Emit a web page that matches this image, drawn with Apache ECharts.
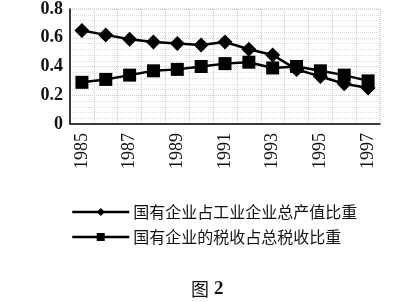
<!DOCTYPE html>
<html><head><meta charset="utf-8">
<script src="https://cdn.jsdelivr.net/npm/echarts@6/dist/echarts.min.js"></script>
<style>html,body{margin:0;padding:0;background:#fff}#c{width:405px;height:302px}</style>
</head><body><div id="c"></div>
<script>
var years = ['1985','1986','1987','1988','1989','1990','1991','1992','1993','1994','1995','1996','1997'];
var outputShare = [0.65,0.62,0.59,0.57,0.56,0.55,0.57,0.52,0.48,0.38,0.33,0.28,0.25];
var taxShare = [0.29,0.31,0.34,0.37,0.38,0.40,0.42,0.43,0.39,0.40,0.37,0.34,0.30];
var yTicks = [0,0.2,0.4,0.6,0.8];
var seriesNames = ['国有企业占工业企业总产值比重','国有企业的税收占总税收比重'];
var captionWord = '图';
var captionNum = '2';

var chart = echarts.init(document.getElementById('c'), null, {renderer:'canvas'});
chart.setOption({
  animation:false,
  backgroundColor:'#fff',
  grid:{left:70,right:25,top:8,bottom:178,show:true,borderColor:'#bbb',borderWidth:1,borderType:'dotted',backgroundColor:'#fff'},
  title:{text:'{a|'+captionWord+'} {b|'+captionNum+'}',left:186,top:275,
    textStyle:{fontWeight:'normal',rich:{
      a:{fontFamily:'"Noto Sans CJK SC"',fontSize:18,fontWeight:'normal',color:'#111'},
      b:{fontFamily:'"Liberation Serif"',fontSize:19,fontWeight:'bold',color:'#111'}}}},
  legend:{
    orient:'vertical',left:66,top:199,itemGap:9,itemWidth:57,itemHeight:10,
    lineStyle:{width:2.5,color:'#000'},
    textStyle:{fontFamily:'"Noto Sans CJK SC"',fontSize:16,color:'#111',padding:[0,0,0,-1]},
    data:seriesNames
  },
  xAxis:{
    type:'category',data:years,boundaryGap:true,
    axisLine:{lineStyle:{color:'#000',width:1.5}},
    axisTick:{inside:true,length:5,interval:0,lineStyle:{color:'#000'}},
    axisLabel:{rotate:90,interval:1,margin:9,fontFamily:'"Liberation Serif"',fontSize:18,color:'#111'},
    splitLine:{show:true,interval:0,lineStyle:{color:'#ccc',type:'dotted'}}
  },
  yAxis:{
    type:'value',min:0,max:0.8,interval:0.2,
    axisLine:{show:true,lineStyle:{color:'#000',width:1.5}},
    axisTick:{show:false},
    axisLabel:{margin:7,fontFamily:'"Liberation Serif"',fontWeight:'bold',fontSize:18,color:'#111',
      formatter:function(v){var r=yTicks.filter(function(t){return Math.abs(t-v)<1e-9;});return r.length? (v===0?'0':String(+v.toFixed(1))):'';}},
    splitLine:{show:true,lineStyle:{color:'#ccc',type:'dotted'}},
    minorTick:{show:false},
    minorSplitLine:{show:true,splitNumber:4,lineStyle:{color:'#ddd',type:'dotted'}}
  },
  series:[
    {name:seriesNames[0],type:'line',data:outputShare,symbol:'diamond',symbolSize:15,
     lineStyle:{color:'#000',width:2.5},itemStyle:{color:'#000'}},
    {name:seriesNames[1],type:'line',data:taxShare,symbol:'rect',symbolSize:13,
     lineStyle:{color:'#000',width:2.5},itemStyle:{color:'#000'}}
  ]
});
</script></body></html>
